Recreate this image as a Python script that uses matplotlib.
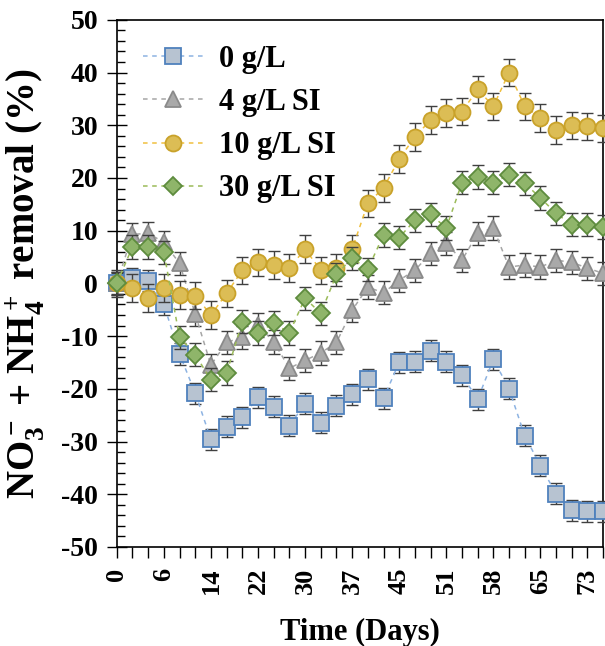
import numpy as np
import matplotlib
matplotlib.use('Agg')
import matplotlib.pyplot as plt
from matplotlib.ticker import MultipleLocator

plt.rcParams['font.family'] = 'Liberation Serif'
plt.rcParams['font.weight'] = 'bold'
plt.rcParams['axes.unicode_minus'] = False
plt.rcParams['mathtext.fontset'] = 'custom'
plt.rcParams['mathtext.rm'] = 'Liberation Serif:bold'
plt.rcParams['mathtext.it'] = 'Liberation Serif:bold'
plt.rcParams['mathtext.bf'] = 'Liberation Serif:bold'

# categorias del eje x (un punto por muestreo, etiqueta cada 3)
day_labels = ['0', '6', '14', '22', '30', '37', '45', '51', '58', '65', '73']
n_samples = 32

# remocion NO3- + NH4+ (%)
rem_0 = [0, 1.0, 0.5, -4.0, -13.4, -20.8, -29.6, -27.2, -25.4, -21.6, -23.4, -27.0,
         -22.8, -26.4, -23.2, -21.0, -18.2, -21.8, -15.0, -14.9, -12.8, -14.9, -17.4,
         -22.0, -14.4, -20.0, -28.9, -34.6, -39.9, -43.0, -43.2, -43.2]
rem_4 = [0, 9.3, 9.5, 7.8, 3.8, -5.8, -15.5, -11.2, -10.2, -7.9, -11.1, -16.1,
         -14.6, -13.2, -11.2, -5.1, -0.7, -1.8, 0.6, 2.5, 5.7, 7.6, 4.4,
         9.5, 10.5, 3.1, 3.5, 3.1, 4.4, 4.0, 2.9, 1.9]
rem_10 = [0, -0.9, -2.8, -0.9, -2.2, -2.3, -6.0, -1.9, 2.5, 4.0, 3.5, 2.9,
          6.5, 2.5, 3.0, 6.5, 15.2, 18.1, 23.6, 27.8, 31.0, 32.3, 32.6,
          36.8, 33.6, 40.0, 33.6, 31.4, 29.1, 30.0, 29.8, 29.4]
rem_30 = [0, 6.9, 6.9, 5.9, -10.2, -13.5, -18.3, -17.0, -7.3, -9.4, -7.5, -9.4,
          -2.8, -5.7, 1.7, 4.8, 2.7, 9.2, 8.7, 12.0, 13.1, 10.5, 19.1,
          20.2, 19.1, 20.6, 19.0, 16.2, 13.3, 11.1, 11.1, 10.7]

err_0 = 2.0
err_4 = 2.2
err_10 = 2.6
err_30 = 2.2

labels = ['0 g/L', '4 g/L SI', '10 g/L SI', '30 g/L SI']

x = np.arange(n_samples)

fig = plt.figure(figsize=(6.05, 6.46), dpi=100)
ax = fig.add_axes([0.193, 0.1533, 0.804, 0.816])

estilos = [
    (rem_0, err_0, 's', 11.0, '#4f81bd', '#b7c3d1', '#8db3e2'),
    (rem_4, err_4, '^', 12.0, '#8a8a8a', '#a9a9a9', '#a6a6a6'),
    (rem_10, err_10, 'o', 11.5, '#c9a22a', '#dcbd55', '#f0c040'),
    (rem_30, err_30, 'D', 9.5, '#5e8c3e', '#8fb56a', '#9bbb59'),
]

for k, (y, e, m, ms, ec, fc, lc) in enumerate(estilos):
    z = 3 + 2 * k
    ax.errorbar(x, y, yerr=e, fmt='none', ecolor='#404040', elinewidth=1,
                capsize=4.5, capthick=1, zorder=z, clip_on=False)
    ax.plot(x, y, linestyle=(0, (3, 3)), color=lc, lw=1.1, marker=m, ms=ms,
            mfc=fc, mec=ec, mew=1.3, label=labels[k], zorder=z + 1, clip_on=False)

ax.set_xlim(0, 31)
ax.set_ylim(-50, 50)

ax.set_xticks(x)
ax.set_xticklabels([day_labels[i // 3] if i % 3 == 0 and i // 3 < len(day_labels) else ''
                    for i in x])
ax.set_yticks(np.arange(-50, 51, 10))
ax.yaxis.set_minor_locator(MultipleLocator(2))

ax.tick_params(axis='x', which='major', direction='out', length=8, width=1,
               labelsize=19, labelrotation=90, pad=7)
ax.tick_params(axis='y', which='major', direction='inout', length=15, width=1,
               labelsize=20, pad=6)
ax.tick_params(axis='y', which='minor', direction='in', length=6, width=1)

for s in ax.spines.values():
    s.set_linewidth(1.2)

ax.set_xlabel('Time (Days)', fontsize=22, fontweight='bold', labelpad=17)
ax.set_ylabel('NO$_3^-$ + NH$_4^+$ removal (%)', fontsize=28, fontweight='bold')
ax.yaxis.set_label_coords(-0.144, 0.5)

ax.legend(loc='upper left', bbox_to_anchor=(0.053, 0.952), frameon=False,
          fontsize=22, handlelength=2.0, handletextpad=0.5, labelspacing=0.46,
          borderpad=0, borderaxespad=0)

fig.savefig('out.png', dpi=100)
